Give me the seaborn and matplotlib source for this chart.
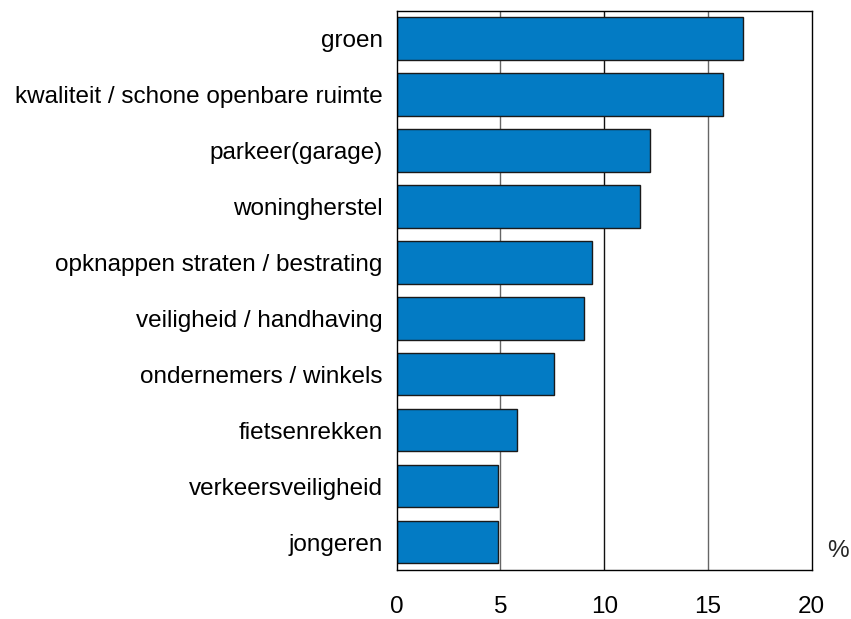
import matplotlib
matplotlib.use("Agg")
import matplotlib.pyplot as plt
import seaborn as sns
import pandas as pd

categories = ["groen", "kwaliteit / schone openbare ruimte", "parkeer(garage)",
              "woningherstel", "opknappen straten / bestrating", "veiligheid / handhaving",
              "ondernemers / winkels", "fietsenrekken", "verkeersveiligheid", "jongeren"]
values = [16.7, 15.7, 12.2, 11.7, 9.4, 9.0, 7.6, 5.8, 4.9, 4.9]
xticks = [0, 5, 10, 15, 20]
grid_colors = {5: "#666666", 10: "#111111", 15: "#666666"}

df = pd.DataFrame({"cat": categories, "val": values})

sns.set_style("white")
plt.rcParams["font.family"] = ["Liberation Sans", "DejaVu Sans"]

fig = plt.figure(figsize=(8.51, 6.19), dpi=100)
ax = fig.add_axes([0.4662, 0.0792, 0.4877, 0.9036])

for x, c in grid_colors.items():
    ax.axvline(x, color=c, lw=1.0, zorder=0)

sns.barplot(data=df, x="val", y="cat", color="#037BC4", saturation=1,
            width=0.76, edgecolor="#1a1a1a", linewidth=1.0, ax=ax, zorder=2)

ax.set_xlim(0, 20)
ax.set_ylim(len(categories) - 0.5, -0.5)
ax.set_xticks(xticks)
ax.set_xticklabels([str(t) for t in xticks])
ax.set_xlabel("")
ax.set_ylabel("")
ax.tick_params(axis="x", length=0, pad=19, labelsize=17.5, colors="black")
ax.tick_params(axis="y", length=0, pad=10, labelsize=17.5, colors="black")
for s in ax.spines.values():
    s.set_visible(True)
    s.set_color("black")
    s.set_linewidth(1.0)

fig.text(0.985, 0.1095, "%", fontsize=17.5, ha="center", va="center")

fig.savefig("out.png", dpi=100)
